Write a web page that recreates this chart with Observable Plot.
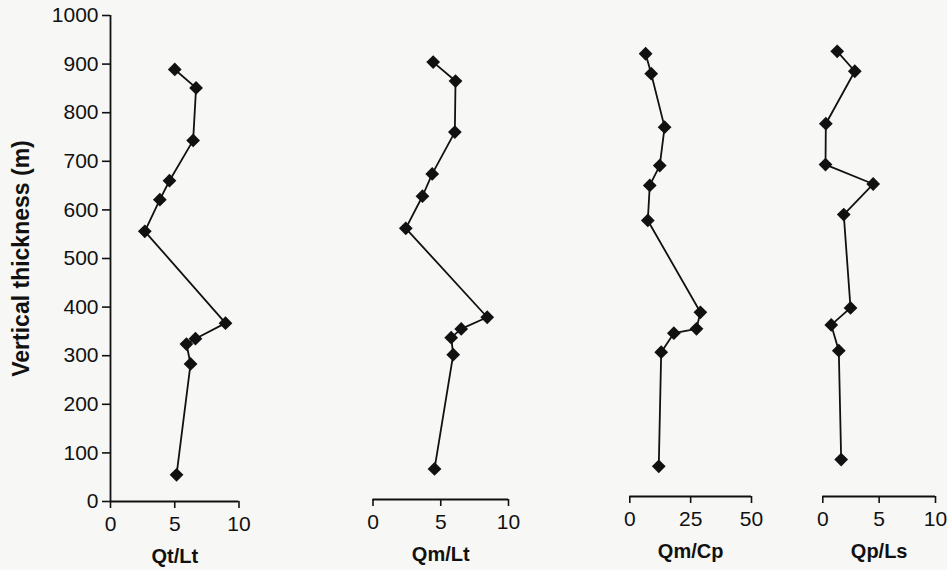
<!DOCTYPE html>
<html><head><meta charset="utf-8">
<script src="https://cdn.jsdelivr.net/npm/d3@7"></script>
<script src="https://cdn.jsdelivr.net/npm/@observablehq/plot@0.6"></script>
<style>
html,body{margin:0;padding:0;background:#f7f7f5;}
#chart{position:relative;width:947px;height:570px;overflow:hidden;font-family:"Liberation Sans",Arial,sans-serif;}
#chart svg{position:absolute;top:0;overflow:visible;}
</style></head><body><div id="chart"></div>
<script>
// ---- data ----
const yTickValues = [0, 100, 200, 300, 400, 500, 600, 700, 800, 900, 1000];
const yLabel = "Vertical thickness (m)";

const qtLtDepth = [889, 851, 743, 660, 621, 556, 367, 335, 324, 283, 55];
const qtLt      = [5.0, 6.66, 6.43, 4.59, 3.84, 2.67, 8.95, 6.61, 5.91, 6.23, 5.14];

const qmLtDepth = [900, 861, 756, 670, 624, 558, 375, 351, 333, 298, 63];
const qmLt      = [4.44, 6.09, 6.04, 4.37, 3.65, 2.42, 8.43, 6.51, 5.77, 5.92, 4.54];

const qmCpDepth = [911, 870, 760, 681, 640, 568, 379, 345, 336, 297, 62];
const qmCp      = [6.5, 8.8, 14.3, 12.3, 8.2, 7.4, 29.0, 27.4, 18.1, 12.9, 11.9];

const qpLsDepth = [916, 875, 767, 683, 643, 580, 388, 353, 300, 76];
const qpLs      = [1.28, 2.84, 0.27, 0.24, 4.47, 1.86, 2.46, 0.75, 1.42, 1.63];

const panelLabels = ["Qt/Lt", "Qm/Lt", "Qm/Cp", "Qp/Ls"];
const xDomains = [[0, 10], [0, 10], [0, 50], [0, 10]];
const xTickValues = [[0, 5, 10], [0, 5, 10], [0, 25, 50], [0, 5, 10]];

// ---- layout (positions / sizes) ----
const layout = [
  {left: 0,   width: 250, ml: 110,  mr: 11.5, mt: 15, mb: 69, yAxis: true},
  {left: 330, width: 200, ml: 42.5, mr: 22,   mt: 13, mb: 71, yAxis: false},
  {left: 590, width: 180, ml: 39.3, mr: 19,   mt: 10, mb: 74, yAxis: false},
  {left: 790, width: 157, ml: 32.3, mr: 12,   mt: 10, mb: 74, yAxis: false}
];

const series = [
  [qtLtDepth, qtLt], [qmLtDepth, qmLt], [qmCpDepth, qmCp], [qpLsDepth, qpLs]
];

const ink = "#111";
const font = "'Liberation Sans', Arial, sans-serif";
const chart = document.getElementById("chart");

series.forEach(([depths, vals], i) => {
  const L = layout[i];
  const data = depths.map((d, j) => ({depth: d, value: vals[j]}));
  const plot = Plot.plot({
    width: L.width, height: 570,
    marginLeft: L.ml, marginRight: L.mr, marginTop: L.mt, marginBottom: L.mb,
    x: {domain: xDomains[i], axis: null},
    y: {domain: [0, 1000], axis: null},
    style: {background: "transparent", color: ink, fontFamily: font, overflow: "visible"},
    marks: [
      Plot.ruleY([0], {stroke: ink, strokeWidth: 1.8}),
      L.yAxis ? Plot.ruleX([0], {stroke: ink, strokeWidth: 1.8}) : null,
      Plot.axisX({ticks: xTickValues[i], tickFormat: d => String(d), tickSize: 7, tickPadding: 8, fontSize: 21, strokeWidth: 1.6, label: null}),
      L.yAxis ? Plot.axisY({ticks: yTickValues, tickFormat: d => String(d), tickSize: 8, tickPadding: 4, fontSize: 21, strokeWidth: 1.6, label: null}) : null,
      Plot.line(data, {x: "value", y: "depth", stroke: ink, strokeWidth: 1.8}),
      Plot.dot(data, {x: "value", y: "depth", symbol: "diamond2", r: 6.2, fill: ink, stroke: "none"}),
      Plot.text([panelLabels[i]], {text: d => d, frameAnchor: "bottom", dy: 61, fontSize: 20, fontWeight: "bold", fill: ink}),
      L.yAxis ? Plot.text([yLabel], {text: d => d, frameAnchor: "left", textAnchor: "middle", rotate: -90, dx: -89, fontSize: 23, fontWeight: "bold", fill: ink}) : null
    ]
  });
  plot.style.left = L.left + "px";
  chart.appendChild(plot);
});
</script>
</body></html>
